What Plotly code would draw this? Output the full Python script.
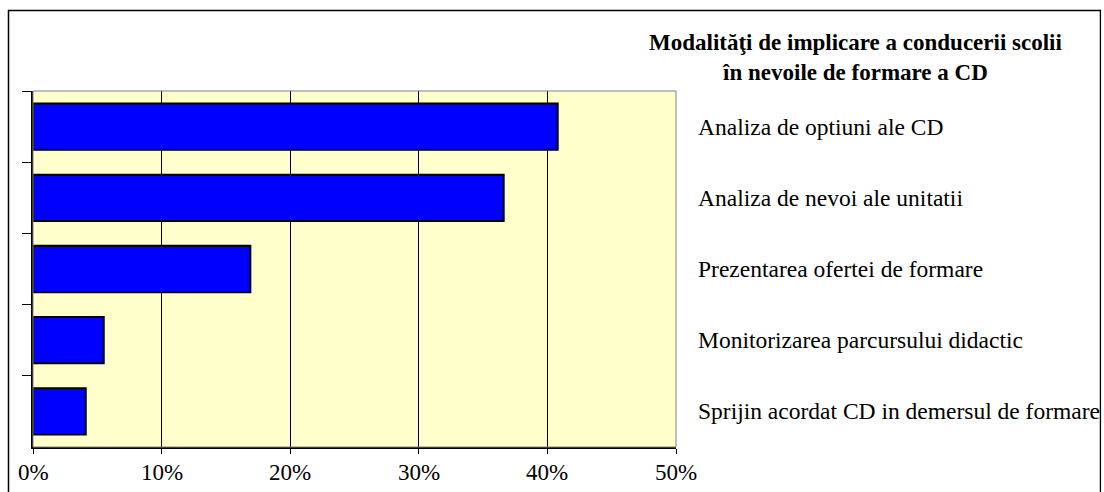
import plotly.graph_objects as go

# Response shares per way of involvement (top to bottom)
categories = [
    "Analiza de optiuni ale CD",
    "Analiza de nevoi ale unitatii",
    "Prezentarea ofertei de formare",
    "Monitorizarea parcursului didactic",
    "Sprijin acordat CD in demersul de formare",
]
shares = [0.408, 0.366, 0.169, 0.055, 0.041]

x_ticks = [0, 0.1, 0.2, 0.3, 0.4, 0.5]
x_tick_labels = ["0%", "10%", "20%", "30%", "40%", "50%"]

title_lines = [
    "Modalităţi de implicare a conducerii scolii",
    "în nevoile de formare a CD",
]

W, H = 1104, 492
L, R, T, B = 33, 676, 91, 447
pw, ph = R - L, B - T

FONT = "Liberation Serif, Times New Roman, serif"

fig = go.Figure(
    go.Bar(
        x=shares,
        y=categories,
        orientation="h",
        width=0.65,
        marker=dict(color="#0000FF", line=dict(color="#000000", width=2)),
        hoverinfo="x+y",
    )
)

# category names printed to the right of the plot area
for cat in categories:
    fig.add_annotation(
        x=1, xref="paper", y=cat, yref="y",
        text=cat, showarrow=False, xanchor="left", xshift=20,
        font=dict(family=FONT, size=23.5, color="#000000"),
    )

# percentage labels under the x ticks
for v, lab in zip(x_ticks, x_tick_labels):
    fig.add_annotation(
        x=v, xref="x", y=0, yref="paper", yshift=-25,
        text=lab, showarrow=False, xanchor="center", yanchor="middle",
        font=dict(family=FONT, size=23, color="#000000"),
    )

# chart title, two centred lines
fig.add_annotation(
    x=(855 - L) / pw, xref="paper", y=(B - 57) / ph, yref="paper",
    text="<b>" + "<br>".join(title_lines) + "</b>",
    showarrow=False, xanchor="center", yanchor="middle",
    font=dict(family=FONT, size=23, color="#000000"),
)

# plot area outline (top and right edges are grey)
fig.add_shape(type="rect", xref="paper", yref="paper", x0=0, x1=1, y0=0, y1=1,
              line=dict(color="#808080", width=1), layer="above")
# outer chart frame
fig.add_shape(type="rect", xref="paper", yref="paper",
              x0=(8.5 - L) / pw, x1=(1100.5 - L) / pw,
              y0=(B - 520) / ph, y1=(B - 10.5) / ph,
              line=dict(color="#000000", width=1.5), layer="above")
# white strip beyond the frame so overflowing text is cut at the edge
fig.add_shape(type="rect", xref="paper", yref="paper",
              x0=(1101.3 - L) / pw, x1=(1130 - L) / pw,
              y0=(B - 520) / ph, y1=(B + 20) / ph,
              line=dict(width=0), fillcolor="#FFFFFF", layer="above")

fig.update_layout(
    width=W, height=H,
    margin=dict(l=L, r=W - R, t=T, b=H - B, autoexpand=False),
    paper_bgcolor="#FFFFFF",
    plot_bgcolor="#FFFFCC",
    showlegend=False,
    bargap=0.35,
    font=dict(family=FONT, size=23, color="#000000"),
    xaxis=dict(
        range=[0, 0.5],
        tickvals=x_ticks,
        showticklabels=False,
        showgrid=True, gridcolor="#000000", gridwidth=1,
        zeroline=False,
        showline=True, linecolor="#000000", linewidth=1.5,
        ticks="outside", ticklen=5, tickcolor="#000000",
    ),
    yaxis=dict(
        autorange="reversed",
        showticklabels=False,
        showgrid=False, zeroline=False,
        showline=True, linecolor="#000000", linewidth=1.5,
        ticks="outside", ticklen=9, tickcolor="#000000",
        tickson="boundaries",
    ),
)

fig.write_html("out.html")
